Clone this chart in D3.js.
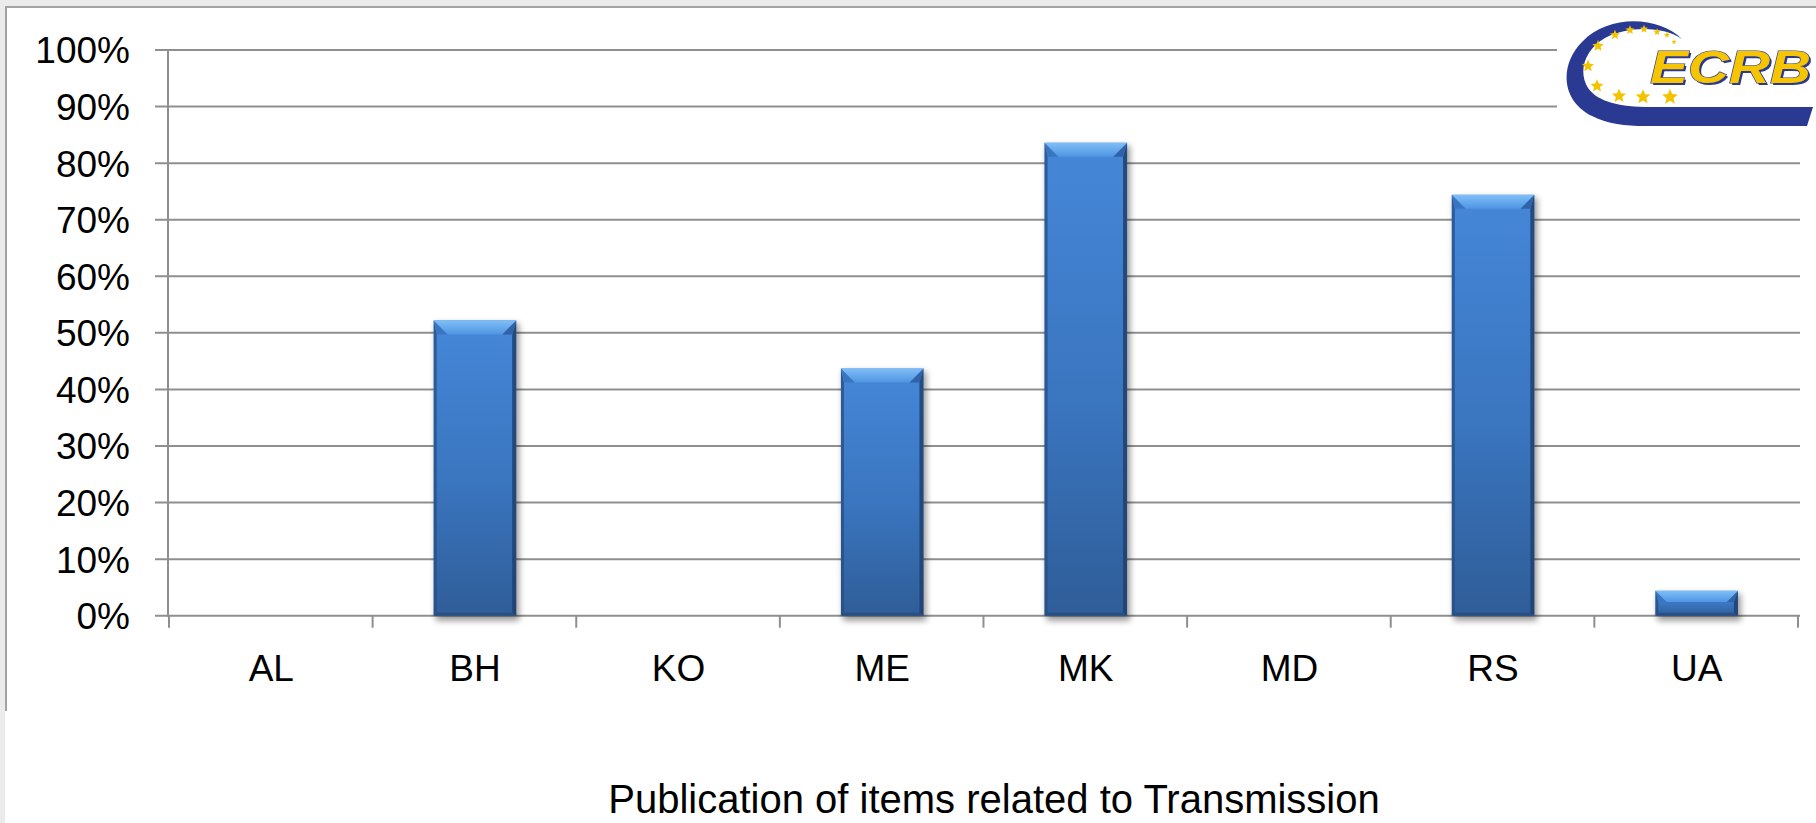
<!DOCTYPE html>
<html>
<head>
<meta charset="utf-8">
<script src="https://cdn.jsdelivr.net/npm/d3@7"></script>
<style>
  html, body { margin: 0; padding: 0; background: #ffffff; }
  svg { display: block; }
  text { font-family: "Liberation Sans", Arial, sans-serif; }
</style>
</head>
<body>
<div id="chart"></div>
<script>
// ---- data ----
const categories = ["AL", "BH", "KO", "ME", "MK", "MD", "RS", "UA"];
const values = [0, 52.2, 0, 43.7, 83.6, 0, 74.4, 4.4];
const yTickValues = [0, 10, 20, 30, 40, 50, 60, 70, 80, 90, 100];
const yTickLabels = ["0%", "10%", "20%", "30%", "40%", "50%", "60%", "70%", "80%", "90%", "100%"];
const chartTitle = "Publication of items related to Transmission";
const logoText = "ECRB";

const W = 1816, H = 823;
const svg = d3.select("#chart").append("svg").attr("width", W).attr("height", H);

// frame
svg.append("rect").attr("x", 0).attr("y", 0).attr("width", W).attr("height", 6).attr("fill", "#ebebeb");
svg.append("rect").attr("x", 0).attr("y", 0).attr("width", 5).attr("height", H).attr("fill", "#ebebeb");
svg.append("line").attr("x1", 5).attr("x2", W).attr("y1", 7).attr("y2", 7).attr("stroke", "#a3a3a3").attr("stroke-width", 2);
svg.append("line").attr("x1", 6).attr("x2", 6).attr("y1", 6).attr("y2", 711).attr("stroke", "#a3a3a3").attr("stroke-width", 2);

// scales
const x = d3.scaleBand().domain(categories).range([169, 1799]).paddingInner(0.595).paddingOuter(0.3);
const y = d3.scaleLinear().domain([0, 100]).range([615.7, 50]);

const defs = svg.append("defs");
const bodyGrad = defs.append("linearGradient").attr("id", "bodyGrad").attr("x1", 0).attr("y1", 0).attr("x2", 0).attr("y2", 1);
bodyGrad.append("stop").attr("offset", "0%").attr("stop-color", "#4587d8");
bodyGrad.append("stop").attr("offset", "55%").attr("stop-color", "#3a75bf");
bodyGrad.append("stop").attr("offset", "100%").attr("stop-color", "#2f5d98");
const topGrad = defs.append("linearGradient").attr("id", "topGrad").attr("x1", 0).attr("y1", 0).attr("x2", 0).attr("y2", 1);
topGrad.append("stop").attr("offset", "0%").attr("stop-color", "#7fbef7");
topGrad.append("stop").attr("offset", "100%").attr("stop-color", "#4f95e2");
const blur = defs.append("filter").attr("id", "shadow").attr("x", "-20%").attr("y", "-20%").attr("width", "140%").attr("height", "140%");
blur.append("feGaussianBlur").attr("stdDeviation", 3);

// gridlines (extend left as ticks)
const grid = svg.append("g");
grid.selectAll("line").data(yTickValues.filter(d => d > 0)).join("line")
  .attr("x1", 155).attr("x2", 1800)
  .attr("y1", d => y(d)).attr("y2", d => y(d))
  .attr("stroke", "#8f8f8f").attr("stroke-width", 2);

// y axis
const yAxis = d3.axisLeft(y).tickValues(yTickValues).tickSize(0).tickPadding(0)
  .tickFormat((d, i) => yTickLabels[i]);
const yg = svg.append("g").attr("transform", "translate(168,0)").call(yAxis);
yg.select(".domain").remove();
yg.selectAll("text").attr("x", -38).attr("dy", "0.35em")
  .attr("font-size", 37).attr("fill", "#000").attr("font-family", "Liberation Sans, Arial, sans-serif");
svg.append("line").attr("x1", 168).attr("x2", 168).attr("y1", y(100)).attr("y2", y(0) + 1)
  .attr("stroke", "#8f8f8f").attr("stroke-width", 2);

// x axis line + boundary ticks
svg.append("line").attr("x1", 155).attr("x2", 1800).attr("y1", y(0)).attr("y2", y(0))
  .attr("stroke", "#8f8f8f").attr("stroke-width", 2);
const tickXs = d3.range(categories.length + 1).map(i => x.range()[0] + i * x.step());
svg.append("g").selectAll("line").data(tickXs).join("line")
  .attr("x1", d => d).attr("x2", d => d).attr("y1", y(0)).attr("y2", y(0) + 12)
  .attr("stroke", "#8f8f8f").attr("stroke-width", 2);
svg.append("g").selectAll("text").data(categories).join("text")
  .attr("x", d => x(d) + x.bandwidth() / 2).attr("y", 681)
  .attr("text-anchor", "middle").attr("font-size", 37).attr("fill", "#000")
  .text(d => d);

// bars
const data = categories.map((c, i) => ({ c, v: values[i] })).filter(d => d.v > 0);
const bars = svg.append("g").selectAll("g").data(data).join("g");
bars.each(function(d) {
  const g = d3.select(this);
  const x0 = x(d.c), w = x.bandwidth();
  const yT = y(d.v), yB = y(0), h = yB - yT;
  const b = Math.min(14, h * 0.45, w / 2);
  const s = 3;
  g.append("rect").attr("x", x0 + 2).attr("y", yT + 3).attr("width", w + 1).attr("height", h + 2)
    .attr("fill", "#000").attr("opacity", 0.4).attr("filter", "url(#shadow)");
  g.append("rect").attr("x", x0).attr("y", yT).attr("width", w).attr("height", h).attr("fill", "url(#bodyGrad)");
  // side edges
  g.append("polygon").attr("points", [[x0, yT], [x0 + s, yT + b], [x0 + s, yB - s], [x0, yB]].join(" "))
    .attr("fill", "#264d82").attr("opacity", 0.75);
  g.append("polygon").attr("points", [[x0 + w, yT], [x0 + w - s - 1, yT + b], [x0 + w - s - 1, yB - s], [x0 + w, yB]].join(" "))
    .attr("fill", "#1f416f").attr("opacity", 0.85);
  // bottom edge
  g.append("polygon").attr("points", [[x0, yB], [x0 + s, yB - s], [x0 + w - s - 1, yB - s], [x0 + w, yB]].join(" "))
    .attr("fill", "#254a7c").attr("opacity", 0.7);
  // top bevel
  g.append("polygon").attr("points", [[x0, yT], [x0 + b, yT + b], [x0 + s, yT + b]].join(" "))
    .attr("fill", "#3a76c0");
  g.append("polygon").attr("points", [[x0 + w, yT], [x0 + w - b, yT + b], [x0 + w - s - 1, yT + b]].join(" "))
    .attr("fill", "#2f62a6");
  g.append("polygon").attr("points", [[x0, yT], [x0 + w, yT], [x0 + w - b, yT + b], [x0 + b, yT + b]].join(" "))
    .attr("fill", "url(#topGrad)");
});

// title
svg.append("text").attr("x", 994).attr("y", 813).attr("text-anchor", "middle")
  .attr("font-size", 40).attr("fill", "#000").text(chartTitle);

// logo
const logo = svg.append("g");
logo.append("rect").attr("x", 1557).attr("y", 9).attr("width", W - 1557).attr("height", 128).attr("fill", "#fff");
logo.append("path")
  .attr("d", "M 1682 39 C 1660 17, 1610 13, 1582 42 C 1560 64, 1560 100, 1592 116 C 1608 124, 1625 126, 1645 126 L 1807 126 L 1813 107 L 1650 107 C 1620 107, 1598 102, 1588 88 C 1578 72, 1584 50, 1605 38 C 1630 25, 1665 27, 1682 39 Z")
  .attr("fill", "#2a3a92");
const starPts = [[1615,35,5.2],[1630,30,4.8],[1644,29,4.3],[1657,32,3.8],[1667,35,3.2],[1674,42,2.6],
  [1598,46,6],[1588,66,6.4],[1597,86,6.8],[1619,96,7.4],[1643,97,7.8],[1670,97,8.2]];
function starPath(cx, cy, r) {
  const pts = [];
  for (let i = 0; i < 10; i++) {
    const ang = -Math.PI / 2 + i * Math.PI / 5;
    const rr = i % 2 === 0 ? r : r * 0.45;
    pts.push([cx + rr * Math.cos(ang), cy + rr * Math.sin(ang)]);
  }
  return "M" + pts.map(p => p.join(",")).join("L") + "Z";
}
logo.selectAll("path.star").data(starPts).join("path").attr("class", "star")
  .attr("d", d => starPath(d[0], d[1], d[2])).attr("fill", "#f4c300");
logo.append("text").attr("x", 1652).attr("y", 85).attr("font-size", 47).attr("font-weight", "bold")
  .attr("font-style", "italic").attr("fill", "#2a3a92").attr("textLength", 161).attr("lengthAdjust", "spacingAndGlyphs")
  .text(logoText);
logo.append("text").attr("x", 1650).attr("y", 83).attr("font-size", 47).attr("font-weight", "bold")
  .attr("font-style", "italic").attr("fill", "#f6c500").attr("stroke", "#2a3a92").attr("stroke-width", 1.2)
  .attr("paint-order", "stroke").attr("textLength", 161).attr("lengthAdjust", "spacingAndGlyphs")
  .text(logoText);
</script>
</body>
</html>
